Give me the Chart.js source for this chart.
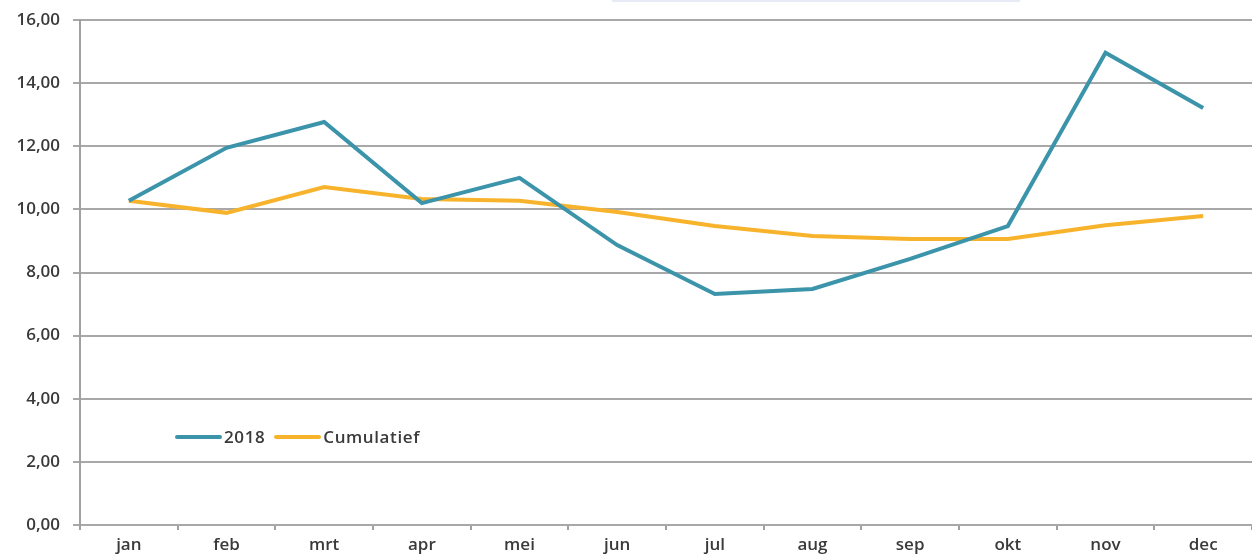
<!DOCTYPE html>
<html>
<head>
<meta charset="utf-8">
<script src="https://cdn.jsdelivr.net/npm/chart.js"></script>
<style>
  html, body { margin: 0; padding: 0; background: #fff; }
  #wrap { position: relative; width: 1252px; height: 555px; }
  #topbar { position: absolute; left: 612px; top: 0; width: 408px; height: 2px; background: #e8eaf8; }
  #legend { position: absolute; left: 175px; top: 425px; font: 600 17px "Open Sans", sans-serif; letter-spacing: 0.6px; color: #3a3a3a; display: flex; align-items: center; }
  #legend span.sw { display: inline-block; width: 47px; height: 4px; border-radius: 2px; margin-right: 2px; }
  #legend span.lb { margin-right: 9px; }
</style>
</head>
<body>
<div id="wrap">
  <canvas id="c" width="1252" height="555"></canvas>
  <div id="topbar"></div>
  <div id="legend"></div>
</div>
<script>
// months and values
var months = ['jan', 'feb', 'mrt', 'apr', 'mei', 'jun', 'jul', 'aug', 'sep', 'okt', 'nov', 'dec'];
var values2018 = [10.27, 11.95, 12.77, 10.20, 11.00, 8.87, 7.32, 7.48, 8.43, 9.47, 14.96, 13.21];
var cumulatief = [10.27, 9.89, 10.71, 10.33, 10.27, 9.92, 9.47, 9.16, 9.06, 9.06, 9.50, 9.79];

var teal = '#3b94aa';
var orange = '#f8b32c';
var tickFont = { family: 'Open Sans', size: 17, weight: '600' };

var chart = new Chart(document.getElementById('c'), {
    type: 'line',
    data: {
        labels: months,
        datasets: [
            { label: '2018', data: values2018, borderColor: teal, backgroundColor: teal, borderWidth: 4, pointRadius: 0, tension: 0 },
            { label: 'Cumulatief', data: cumulatief, borderColor: orange, backgroundColor: orange, borderWidth: 4, pointRadius: 0, tension: 0 }
        ]
    },
    options: {
        responsive: false,
        animation: false,
        layout: { padding: { top: 20, right: 0, left: 0, bottom: 0 } },
        plugins: { legend: { display: false }, tooltip: { enabled: false } },
        scales: {
            x: {
                offset: true,
                grid: { offset: true, drawOnChartArea: false, drawTicks: true, tickLength: 5, color: '#a0a0a0', lineWidth: 2 },
                border: { display: false },
                ticks: { color: '#3a3a3a', font: tickFont, padding: 5 },
                afterFit: function(s) { s.height = 30; }
            },
            y: {
                min: 0,
                max: 16,
                ticks: {
                    stepSize: 2,
                    color: '#3a3a3a',
                    font: tickFont,
                    padding: 13,
                    callback: function(v) { return v.toFixed(2).replace('.', ','); }
                },
                grid: { color: '#a8a8a8', lineWidth: 2, tickLength: 7 },
                border: { color: '#a0a0a0', width: 2 },
                afterFit: function(s) { s.width = 80; s.paddingTop = 0; s.paddingBottom = 0; }
            }
        }
    }
});

// legend from datasets
var leg = document.getElementById('legend');
chart.data.datasets.forEach(function(ds) {
    var sw = document.createElement('span');
    sw.className = 'sw';
    sw.style.background = ds.borderColor;
    var lb = document.createElement('span');
    lb.className = 'lb';
    lb.textContent = ds.label;
    leg.appendChild(sw);
    leg.appendChild(lb);
});
</script>
</body>
</html>
